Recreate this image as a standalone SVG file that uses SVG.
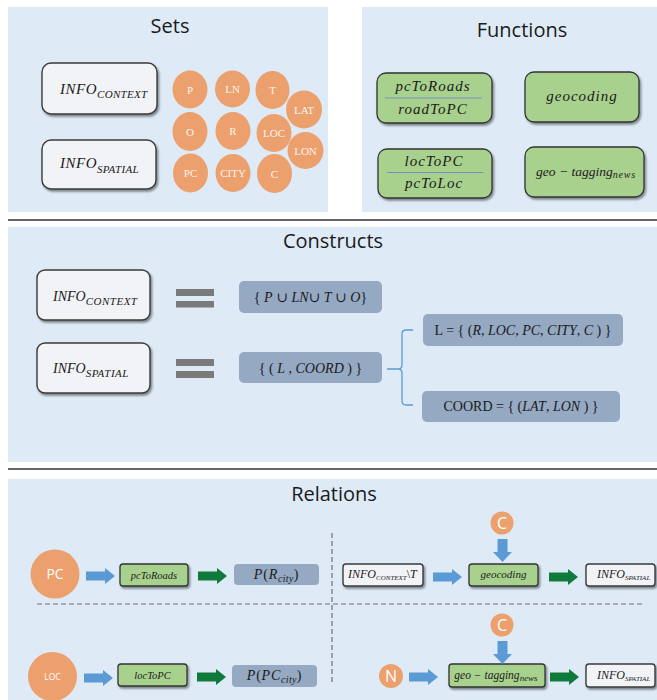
<svg xmlns="http://www.w3.org/2000/svg" width="657" height="700" viewBox="0 0 657 700">
<style>
.panel{fill:#deebf7}
.sep{stroke:#666;stroke-width:2}
.title{font-family:"Open Sans","Liberation Sans",sans-serif;font-size:20px;fill:#1a1a1a;text-anchor:middle}
.wbox{fill:#f2f3f6;stroke:#3a3a3a;stroke-width:1.4;filter:url(#sh)}
.gbox{fill:#a9d18e;stroke:#333;stroke-width:1.3;filter:url(#sh)}
.sbox{fill:#95a9c3}
.orange{fill:#eca06e}
.math{font-family:"Liberation Serif","DejaVu Serif",serif;font-style:italic;fill:#1a1a1a}
.rom{font-family:"Liberation Serif","DejaVu Serif",serif;fill:#1a1a1a}
.it{font-style:italic}
.up{font-style:normal}
.ctext{font-family:"Liberation Serif",serif;font-size:11px;fill:#fff;fill-opacity:0.92;text-anchor:middle}
.wtext{font-family:"Open Sans","Liberation Sans",sans-serif;fill:#fff;text-anchor:middle}
.blue{fill:#5b9bd5}
.green{fill:#107a3c}
.dash{stroke:#707070;stroke-width:1.2;stroke-dasharray:5 3;fill:none}
.div{stroke:#7f8dc6;stroke-width:1}
.eq{fill:#7a7a7a}
.mid{text-anchor:middle}
.fn{font-size:15px;letter-spacing:1px}
.brace{fill:none;stroke:#5b9bd5;stroke-width:1.3}
</style>
<defs>
<filter id="sh" x="-10%" y="-15%" width="130%" height="150%">
<feDropShadow dx="1.5" dy="2" stdDeviation="1.2" flood-color="#000" flood-opacity="0.45"/>
</filter>
<path id="ah" d="M0,-4.5 H19 V-8 L29,0 L19,8 V4.5 H0 Z"/>
<path id="av" d="M-5,0 V13 H-9.5 L0,23 L9.5,13 H5 V0 Z"/>
</defs>

<g id="panels">
<rect class="panel" x="8" y="7" width="320" height="205"/>
<rect class="panel" x="362" y="7" width="295" height="205"/>
<rect class="panel" x="8" y="227" width="649" height="235"/>
<rect class="panel" x="8" y="479" width="649" height="221"/>
<line class="sep" x1="8" y1="220" x2="657" y2="220"/>
<line class="sep" x1="8" y1="469" x2="657" y2="469"/>
</g>

<g id="titles">
<text class="title" x="170" y="33">Sets</text>
<text class="title" x="522" y="37">Functions</text>
<text class="title" x="333" y="248">Constructs</text>
<text class="title" x="334" y="501">Relations</text>
</g>

<!-- Sets -->
<g id="set-info-context">
<rect class="wbox" x="42" y="63" width="115" height="51" rx="9"/>
<text class="math" x="60" y="94" font-size="15" letter-spacing="0.5">INFO<tspan font-size="11" dy="4" letter-spacing="0.3">CONTEXT</tspan></text>
</g>
<g id="set-info-spatial">
<rect class="wbox" x="42" y="140" width="114" height="49" rx="9"/>
<text class="math" x="60" y="168" font-size="15" letter-spacing="0.5">INFO<tspan font-size="11" dy="5" letter-spacing="0.3">SPATIAL</tspan></text>
</g>
<g id="set-P"><ellipse class="orange" cx="190" cy="89.5" rx="17.5" ry="19"/><text class="ctext" x="190" y="93.5">P</text></g>
<g id="set-LN"><ellipse class="orange" cx="232.5" cy="89" rx="17.5" ry="18.5"/><text class="ctext" x="232.5" y="93">LN</text></g>
<g id="set-T"><ellipse class="orange" cx="272.5" cy="90" rx="17" ry="19"/><text class="ctext" x="272.5" y="94">T</text></g>
<g id="set-LAT"><ellipse class="orange" cx="304" cy="109.5" rx="18" ry="19"/><text class="ctext" x="304" y="113.5">LAT</text></g>
<g id="set-O"><ellipse class="orange" cx="190" cy="131.5" rx="17.5" ry="19.5"/><text class="ctext" x="190" y="135.5">O</text></g>
<g id="set-R"><ellipse class="orange" cx="233" cy="131" rx="17.5" ry="19"/><text class="ctext" x="233" y="135">R</text></g>
<g id="set-LOC"><ellipse class="orange" cx="274" cy="133" rx="17.5" ry="19"/><text class="ctext" x="274" y="137">LOC</text></g>
<g id="set-LON"><ellipse class="orange" cx="305.5" cy="150.5" rx="18" ry="18.5"/><text class="ctext" x="305.5" y="154.5">LON</text></g>
<g id="set-PC"><ellipse class="orange" cx="190.5" cy="173" rx="17.5" ry="19.5"/><text class="ctext" x="190.5" y="177">PC</text></g>
<g id="set-CITY"><ellipse class="orange" cx="233" cy="173" rx="17.5" ry="19"/><text class="ctext" x="233" y="177">CITY</text></g>
<g id="set-C"><ellipse class="orange" cx="274.5" cy="173.5" rx="17.5" ry="19.5"/><text class="ctext" x="274.5" y="177.5">C</text></g>

<!-- Functions -->
<g id="fn-pcToRoads">
<rect class="gbox" x="377" y="73" width="115" height="50" rx="9"/>
<line class="div" x1="385" y1="98" x2="482" y2="98"/>
<text class="math mid fn" x="433" y="91">pcToRoads</text>
<text class="math mid fn" x="433" y="114">roadToPC</text>
</g>
<g id="fn-geocoding">
<rect class="gbox" x="525" y="72" width="114" height="50" rx="9"/>
<text class="math mid fn" x="582" y="101">geocoding</text>
</g>
<g id="fn-locToPC">
<rect class="gbox" x="378" y="149" width="114" height="49" rx="9"/>
<line class="div" x1="387" y1="172.5" x2="483" y2="172.5"/>
<text class="math mid fn" x="434" y="166">locToPC</text>
<text class="math mid fn" x="434" y="188">pcToLoc</text>
</g>
<g id="fn-geotagging">
<rect class="gbox" x="525" y="147" width="119" height="50" rx="9"/>
<text class="math mid" x="586" y="176" font-size="13.5">geo − tagging<tspan font-size="10" dy="2" letter-spacing="0.8">news</tspan></text>
</g>

<!-- Constructs -->
<g id="c-info-context">
<rect class="wbox" x="37" y="270" width="113" height="50" rx="8"/>
<text class="math" x="53" y="301" font-size="14">INFO<tspan font-size="11" dy="4" letter-spacing="0.5">CONTEXT</tspan></text>
</g>
<g id="c-info-spatial">
<rect class="wbox" x="37" y="343" width="113" height="50" rx="8"/>
<text class="math" x="53" y="373" font-size="14">INFO<tspan font-size="11" dy="4" letter-spacing="0.5">SPATIAL</tspan></text>
</g>
<g id="c-eq1">
<rect class="eq" x="176" y="289" width="38" height="7"/>
<rect class="eq" x="176" y="301" width="38" height="6.5"/>
</g>
<g id="c-eq2">
<rect class="eq" x="176" y="359" width="38" height="7"/>
<rect class="eq" x="176" y="371" width="38" height="7"/>
</g>
<g id="c-context-set">
<rect class="sbox" x="239" y="281" width="143" height="32" rx="5"/>
<text class="rom mid" x="310.5" y="302" font-size="14">{ <tspan class="it">P</tspan> ∪ <tspan class="it">LN</tspan>∪ <tspan class="it">T</tspan> ∪ <tspan class="it">O</tspan>}</text>
</g>
<g id="c-spatial-set">
<rect class="sbox" x="239" y="352" width="143" height="31" rx="5"/>
<text class="rom mid" x="310.5" y="372.5" font-size="14">{ ( <tspan class="it">L</tspan> , <tspan class="it">COORD</tspan> ) }</text>
</g>
<g id="c-L">
<rect class="sbox" x="423" y="314" width="200" height="32" rx="5"/>
<text class="rom mid" x="523" y="335" font-size="14">L = { (<tspan class="it">R</tspan>, <tspan class="it">LOC</tspan>, <tspan class="it">PC</tspan>, <tspan class="it">CITY</tspan>, <tspan class="it">C</tspan> ) }</text>
</g>
<g id="c-COORD">
<rect class="sbox" x="422" y="391" width="198" height="31" rx="5"/>
<text class="rom mid" x="521" y="411" font-size="14">COORD = { (<tspan class="it">LAT</tspan>, <tspan class="it">LON</tspan> ) }</text>
</g>

<!-- Relations -->
<g id="dividers">
<line class="dash" x1="37" y1="604" x2="643" y2="604"/>
<line class="dash" x1="332" y1="533" x2="332" y2="682"/>
</g>
<g id="r-PC"><circle class="orange" cx="55" cy="574" r="24.5"/><text class="wtext" x="55" y="579" font-size="14">PC</text></g>
<g id="r-pcToRoads"><rect class="gbox" x="120" y="564" width="68" height="22" rx="3"/><text class="math mid" x="154" y="578.5" font-size="10.5">pcToRoads</text></g>
<g id="r-PRcity"><rect class="sbox" x="234" y="564" width="85" height="21" rx="4"/><text class="math mid" x="276.5" y="578.5" font-size="14" letter-spacing="0.8">P<tspan class="up">(</tspan>R<tspan font-size="10" dy="3" letter-spacing="0.3">city</tspan><tspan class="up" dy="-3">)</tspan></text></g>
<g id="r-LOC"><circle class="orange" cx="52.5" cy="676.5" r="24.5"/><text class="wtext" x="52.5" y="679.5" font-size="8.5">LOC</text></g>
<g id="r-locToPC"><rect class="gbox" x="118" y="664" width="69" height="22" rx="3"/><text class="math mid" x="152.5" y="678.5" font-size="10.5">locToPC</text></g>
<g id="r-PPCcity"><rect class="sbox" x="232" y="665" width="85" height="22" rx="4"/><text class="math mid" x="274.5" y="680" font-size="14" letter-spacing="0.8">P<tspan class="up">(</tspan>PC<tspan font-size="10" dy="3" letter-spacing="0.3">city</tspan><tspan class="up" dy="-3">)</tspan></text></g>
<g id="r-info-context-t"><rect class="wbox" x="343" y="564" width="80" height="22" rx="3"/><text class="math" x="348" y="578" font-size="12">INFO<tspan font-size="7" dy="1.5">CONTEXT</tspan><tspan class="up" dy="-1.5">\</tspan>T</text></g>
<g id="r-C1"><circle class="orange" cx="502" cy="523" r="11.5"/><text class="wtext" x="502" y="528.5" font-size="16">C</text></g>
<g id="r-geocoding"><rect class="gbox" x="469" y="564" width="69" height="22" rx="3"/><text class="math mid" x="503.5" y="578" font-size="11">geocoding</text></g>
<g id="r-info-spatial1"><rect class="wbox" x="586" y="564" width="69" height="22" rx="3"/><text class="math" x="597" y="578" font-size="12">INFO<tspan font-size="7" dy="1.5">SPATIAL</tspan></text></g>
<g id="r-C2"><circle class="orange" cx="502" cy="625" r="11.5"/><text class="wtext" x="502" y="630.5" font-size="16">C</text></g>
<g id="r-N"><circle class="orange" cx="391" cy="676" r="12"/><text class="wtext" x="391" y="681.5" font-size="16">N</text></g>
<g id="r-geotagging"><rect class="gbox" x="449" y="664" width="96" height="23" rx="3"/><text class="math mid" x="496" y="679" font-size="11.5">geo − tagging<tspan font-size="9" dy="2">news</tspan></text></g>
<g id="r-info-spatial2"><rect class="wbox" x="586" y="664" width="69" height="23" rx="3"/><text class="math" x="597" y="679" font-size="12">INFO<tspan font-size="7" dy="1.5">SPATIAL</tspan></text></g>

<g id="connectors">
<path class="brace" d="M387,369 H398 M413,330 H406 Q402,330 402,334 V365 Q402,369 398,369 Q402,369 402,373 V401 Q402,405 406,405 H413"/>
<use href="#ah" class="blue" x="86" y="576"/>
<use href="#ah" class="green" x="198" y="576"/>
<use href="#ah" class="blue" x="84" y="678"/>
<use href="#ah" class="green" x="197" y="677"/>
<use href="#ah" class="blue" x="433" y="577"/>
<use href="#av" class="blue" x="502.5" y="539"/>
<use href="#ah" class="green" x="549" y="577"/>
<use href="#av" class="blue" x="502.5" y="641"/>
<use href="#ah" class="blue" x="409" y="677"/>
<use href="#ah" class="green" x="550" y="677"/>
</g>
</svg>
